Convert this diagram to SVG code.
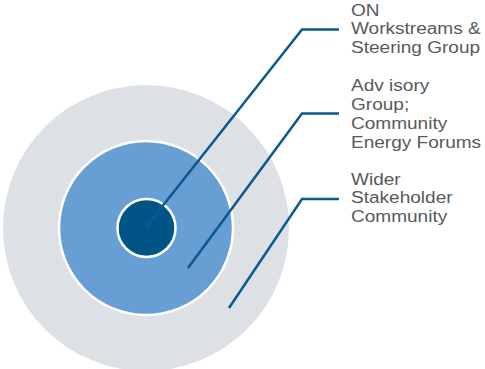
<svg xmlns="http://www.w3.org/2000/svg" width="485" height="369" viewBox="0 0 485 369">
  <style>
    .lbl { font-family: "Liberation Sans", Arial, sans-serif; font-size: 16px; fill: #58595b; }
    .conn { fill: none; stroke: #0a5a8c; stroke-width: 2.5; stroke-linejoin: miter; }
  </style>
  <rect width="485" height="369" fill="#ffffff"/>
  <g id="outer-ring">
    <circle cx="146" cy="228" r="143" fill="#dde1e6"/>
  </g>
  <g id="middle-ring">
    <circle cx="146" cy="228" r="87" fill="#679ed3" stroke="#ffffff" stroke-width="2.5"/>
  </g>
  <g id="inner-core">
    <circle cx="146.5" cy="228" r="29" fill="#005586" stroke="#ffffff" stroke-width="2.5"/>
  </g>
  <g id="connectors">
    <polyline class="conn" points="146,227 302,29.5 339,29.5"/>
    <polyline class="conn" points="188,268 302,113.5 339,113.5"/>
    <polyline class="conn" points="229,308 302,199 339,199"/>
  </g>
  <g id="label-core" transform="translate(351,0) scale(1.19,1)">
    <text class="lbl" x="0" y="16">ON</text>
    <text class="lbl" x="0" y="34.5">Workstreams &amp;</text>
    <text class="lbl" x="0" y="53.2">Steering Group</text>
  </g>
  <g id="label-middle" transform="translate(351,0) scale(1.19,1)">
    <text class="lbl" x="0" y="91.5">Adv isory</text>
    <text class="lbl" x="0" y="110.2">Group;</text>
    <text class="lbl" x="0" y="129">Community</text>
    <text class="lbl" x="0" y="147.7">Energy Forums</text>
  </g>
  <g id="label-outer" transform="translate(351,0) scale(1.19,1)">
    <text class="lbl" x="0" y="185">Wider</text>
    <text class="lbl" x="0" y="203.5">Stakeholder</text>
    <text class="lbl" x="0" y="222">Community</text>
  </g>
</svg>
